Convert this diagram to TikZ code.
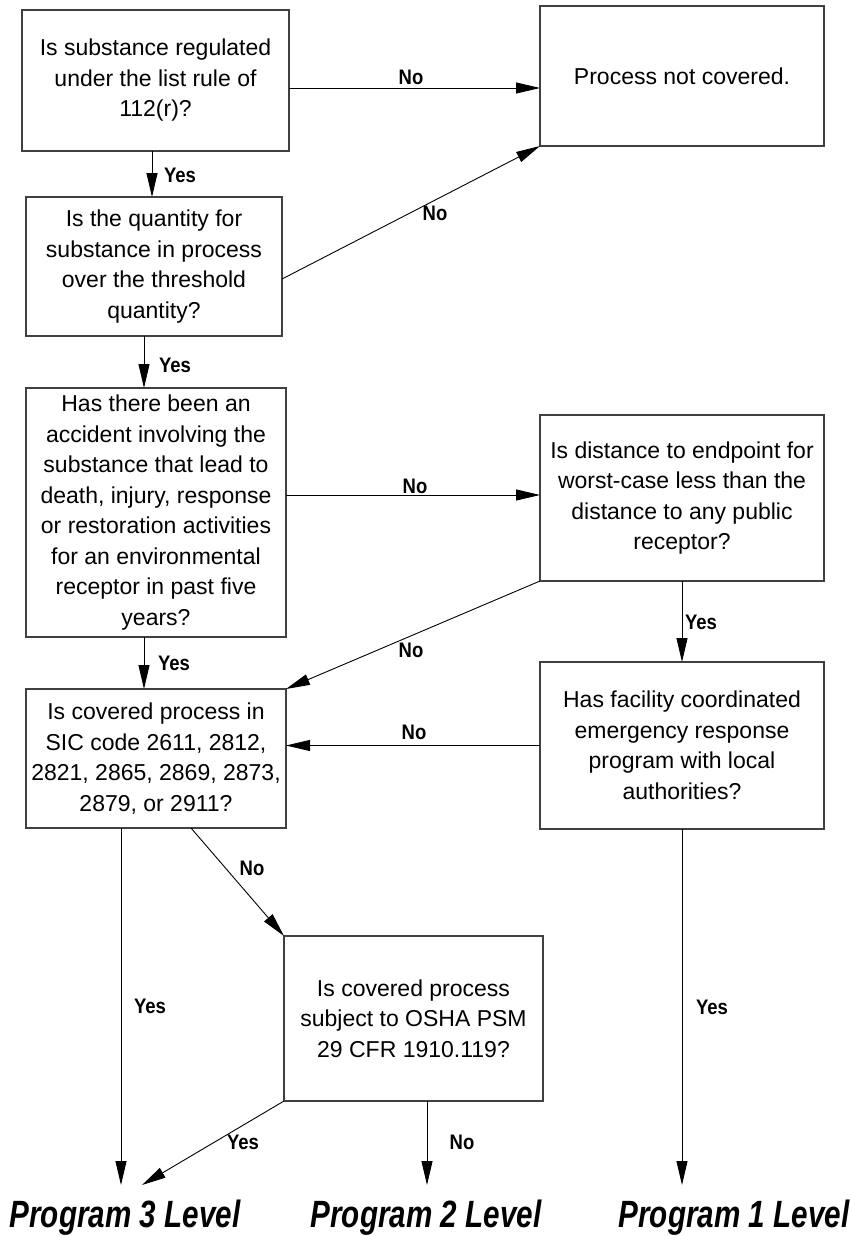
\documentclass[tikz,border=0pt]{standalone}
\usepackage{fontspec}
\setmainfont{Liberation Sans}
\usetikzlibrary{arrows.meta}
\newcommand{\lbltxt}[1]{\scalebox{0.88}[1]{#1}}
\begin{document}
\begin{tikzpicture}[x=1pt,y=-1pt,
  box/.style={draw=black!75, line width=1.1pt, align=center, inner sep=0pt, outer sep=0pt,
    font=\fontsize{23}{30.5}\selectfont},
  lbl/.style={font=\bfseries\fontsize{21}{22}\selectfont, inner sep=0pt},
  arr/.style={line width=0.9pt, -{Triangle[length=24pt,width=11pt]}},
  prog/.style={font=\bfseries\itshape\fontsize{38}{40}\selectfont, inner sep=0pt, outer sep=0pt,
    anchor=base, text height=42pt, text depth=0pt}]
\useasboundingbox (0,0) rectangle (850,1236);

% boxes
\node[box, minimum width=267pt, minimum height=141pt] (A) at (155.5,80.5)
  {Is substance regulated\\under the list rule of\\112(r)?};
\node[box, minimum width=284pt, minimum height=140pt] (B) at (682,76)
  {Process not covered.};
\node[box, minimum width=256pt, minimum height=139pt] (C) at (154,266.5)
  {Is the quantity for\\substance in process\\over the threshold\\quantity?};
\node[box, minimum width=260pt, minimum height=249pt] (D) at (156,512.5)
  {Has there been an\\accident involving the\\substance that lead to\\death, injury, response\\or restoration activities\\for an environmental\\receptor in past five\\years?};
\node[box, minimum width=284pt, minimum height=166pt] (E) at (682,498)
  {Is distance to endpoint for\\worst-case less than the\\distance to any public\\receptor?};
\node[box, minimum width=260pt, minimum height=139pt] (F) at (156,758.5)
  {Is covered process in\\SIC code 2611, 2812,\\2821, 2865, 2869, 2873,\\2879, or 2911?};
\node[box, minimum width=284pt, minimum height=167pt] (G) at (682,745.5)
  {Has facility coordinated\\emergency response\\program with local\\authorities?};
\node[box, minimum width=259pt, minimum height=165pt] (H) at (413.5,1018.5)
  {Is covered process\\subject to OSHA PSM\\29 CFR 1910.119?};

% program levels
\node[prog] (P3) at (125,1227) {\scalebox{0.78}[1]{Program 3 Level}};
\node[prog] (P2) at (426,1227) {\scalebox{0.78}[1]{Program 2 Level}};
\node[prog] (P1) at (734,1227) {\scalebox{0.78}[1]{Program 1 Level}};

% helper coordinates
\coordinate (a1) at ([yshift=-7.5pt]A.east);
\coordinate (a2) at ([xshift=-3.5pt]A.south);
\coordinate (c1) at ([yshift=-12.5pt]C.east);
\coordinate (c2) at ([xshift=-10pt]C.south);
\coordinate (d1) at ([yshift=17.5pt]D.east);
\coordinate (d2) at ([xshift=-12pt]D.south);
\coordinate (f1) at ([xshift=-35pt]F.south);
\coordinate (f2) at ([xshift=35pt]F.south);
\coordinate (h1) at ([xshift=13.5pt]H.south);
\coordinate (p3b) at ([xshift=17pt]P3.north);

% connectors
\draw[arr] (a1) -- (a1 -| B.west);
\draw[arr] (c1) -- (B.south west);
\draw[arr] (a2) -- (a2 |- C.north);
\draw[arr] (c2) -- (c2 |- D.north);
\draw[arr] (d1) -- (d1 -| E.west);
\draw[arr] (E.south west) -- (F.north east);
\draw[arr] (E.south) -- (G.north);
\draw[arr] (d2) -- (d2 |- F.north);
\draw[arr] (G.west) -- (G.west -| F.east);
\draw[arr] (f1) -- (f1 |- P3.north);
\draw[arr] (f2) -- (H.north west);
\draw[arr] (H.south west) -- (p3b);
\draw[arr] (h1) -- (h1 |- P2.north);
\draw[arr] (G.south) -- (G.south |- P1.north);

% labels
\node[lbl] (l1) at (411,77) {\lbltxt{No}};
\node[lbl] (l2) at (180,175) {\lbltxt{Yes}};
\node[lbl] (l3) at (435,213) {\lbltxt{No}};
\node[lbl] (l4) at (175,365) {\lbltxt{Yes}};
\node[lbl] (l5) at (415,486) {\lbltxt{No}};
\node[lbl] (l6) at (411,650) {\lbltxt{No}};
\node[lbl] (l7) at (174,663) {\lbltxt{Yes}};
\node[lbl] (l8) at (701,622) {\lbltxt{Yes}};
\node[lbl] (l9) at (414,732) {\lbltxt{No}};
\node[lbl] (l10) at (150,1006) {\lbltxt{Yes}};
\node[lbl] (l11) at (252,868) {\lbltxt{No}};
\node[lbl] (l12) at (243,1142) {\lbltxt{Yes}};
\node[lbl] (l13) at (462,1142) {\lbltxt{No}};
\node[lbl] (l14) at (712,1007) {\lbltxt{Yes}};
\end{tikzpicture}
\end{document}
